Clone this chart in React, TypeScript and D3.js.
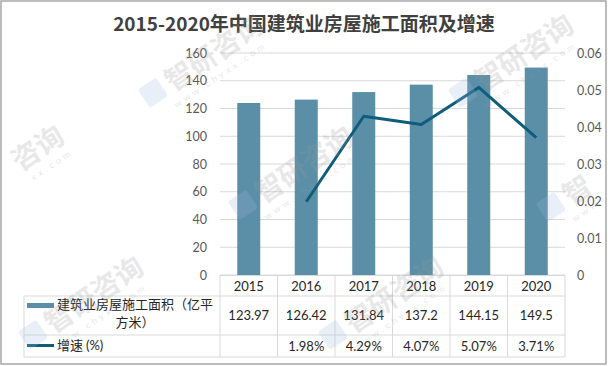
import React from "react";
import * as d3 from "d3";

const years = ["2015", "2016", "2017", "2018", "2019", "2020"];
const areaValues = [123.97, 126.42, 131.84, 137.2, 144.15, 149.5];
const growthValues: (number | null)[] = [null, 0.0198, 0.0429, 0.0407, 0.0507, 0.0371];
const areaLabels = ["123.97", "126.42", "131.84", "137.2", "144.15", "149.5"];
const growthLabels = ["", "1.98%", "4.29%", "4.07%", "5.07%", "3.71%"];
const leftTicks = [0, 20, 40, 60, 80, 100, 120, 140, 160];
const rightTicks = [0, 0.01, 0.02, 0.03, 0.04, 0.05, 0.06];
const watermarkSpots = [
  [150, 108],
  [460, 108],
  [240, 220],
  [30, 350],
  [330, 350],
];

const W = 608;
const H = 366;
const FONT = "'Noto Sans CJK SC', 'Noto Sans', sans-serif";
const NUM = "Lato, 'Open Sans', sans-serif";
const BAR = "#5b8fa8";
const LINE = "#0f5d7b";

function Watermark({
  x,
  y,
  label = "智研咨询",
  url = "www.chyxx.com",
  logo = true,
  lx = 28,
  ux = 22,
}: {
  x: number;
  y: number;
  label?: string;
  url?: string;
  logo?: boolean;
  lx?: number;
  ux?: number;
}) {
  return (
    <g transform={`translate(${x},${y}) rotate(-34)`} opacity={0.22} pointerEvents="none">
      {logo && <rect x={0} y={-22} width={22} height={22} rx={3} fill="#9fbbe0" />}
      <text x={lx} y={0} fontSize={28} fontWeight="bold" fill="#9a9a9a" fontFamily={FONT}>
        {label}
      </text>
      <text x={ux} y={15} fontSize={9} fill="#9a9a9a" letterSpacing={3.5} fontFamily={NUM}>
        {url}
      </text>
    </g>
  );
}

export default function App() {
  const x0 = 220;
  const x1 = 565;
  const yTop = 53;
  const yBot = 275;
  const x = d3.scaleBand<string>().domain(years).range([x0, x1]).paddingInner(0).paddingOuter(0);
  const yL = d3.scaleLinear().domain([0, 160]).range([yBot, yTop]);
  const yR = d3.scaleLinear().domain([0, 0.06]).range([yBot, yTop]);
  const barW = 23;
  const line = d3
    .line<number | null>()
    .defined((d) => d != null)
    .x((_, i) => (x(years[i]) as number) + x.bandwidth() / 2)
    .y((d) => yR(d as number));

  const rowTop = 296;
  const rowMid = 335;
  const rowBot = 357;
  const tableLeft = 24;

  return (
    <svg
      width={W}
      height={H}
      style={{ position: "absolute", left: 0, top: 0, fontFamily: FONT }}
    >
      <rect x={0} y={0} width={W} height={H} fill="#fff" />
      <text
        x={304}
        y={31}
        textAnchor="middle"
        fontSize={19}
        fontWeight="bold"
        fill="#404040"
      >
        2015-2020年中国建筑业房屋施工面积及增速
      </text>

      {/* grid */}
      {leftTicks.map((t) => (
        <line key={"g" + t} x1={x0} x2={x1} y1={yL(t)} y2={yL(t)} stroke="#d9d9d9" strokeWidth={1} />
      ))}
      {leftTicks.map((t) => (
        <text key={"l" + t} x={207} y={yL(t) + 4.5} textAnchor="end" fontSize={12.5} fill="#595959" fontFamily={NUM}>
          {t}
        </text>
      ))}
      {rightTicks.map((t) => (
        <text key={"r" + t} x={577} y={yR(t) + 4.5} textAnchor="start" fontSize={12.5} fill="#595959" fontFamily={NUM}>
          {t === 0 ? "0" : d3.format(".2f")(t)}
        </text>
      ))}

      {/* bars */}
      {areaValues.map((v, i) => (
        <rect
          key={"b" + i}
          x={(x(years[i]) as number) + x.bandwidth() / 2 - barW / 2}
          y={yL(v)}
          width={barW}
          height={yBot - yL(v)}
          fill={BAR}
        />
      ))}
      <path d={line(growthValues) || ""} fill="none" stroke={LINE} strokeWidth={3} strokeLinejoin="round" />

      {/* table */}
      <g stroke="#d9d9d9" strokeWidth={1}>
        <line x1={x0} x2={x1} y1={yBot + 0.5} y2={yBot + 0.5} />
        <line x1={tableLeft} x2={x1} y1={rowTop} y2={rowTop} />
        <line x1={tableLeft} x2={x1} y1={rowMid} y2={rowMid} />
        <line x1={tableLeft} x2={x1} y1={rowBot} y2={rowBot} />
        <line x1={tableLeft} x2={tableLeft} y1={rowTop} y2={rowBot} />
        {years.map((yr) => (
          <line key={"v" + yr} x1={x(yr) as number} x2={x(yr) as number} y1={yBot} y2={rowBot} />
        ))}
        <line x1={x1} x2={x1} y1={yBot} y2={rowBot} />
      </g>
      {years.map((yr) => (
        <text
          key={"c" + yr}
          x={(x(yr) as number) + x.bandwidth() / 2}
          y={291}
          textAnchor="middle"
          fontSize={13}
          fill="#262626"
          fontFamily={NUM}
        >
          {yr}
        </text>
      ))}
      {areaLabels.map((s, i) => (
        <text
          key={"a" + i}
          x={(x(years[i]) as number) + x.bandwidth() / 2}
          y={320}
          textAnchor="middle"
          fontSize={13}
          fill="#262626"
          fontFamily={NUM}
        >
          {s}
        </text>
      ))}
      {growthLabels.map((s, i) => (
        <text
          key={"p" + i}
          x={(x(years[i]) as number) + x.bandwidth() / 2}
          y={351}
          textAnchor="middle"
          fontSize={13}
          fill="#262626"
          fontFamily={NUM}
        >
          {s}
        </text>
      ))}

      {/* legend keys */}
      <rect x={27} y={303} width={27} height={5} fill={BAR} />
      <line x1={27} x2={54} y1={345.5} y2={345.5} stroke={LINE} strokeWidth={3} />
      <text x={57} y={309} fontSize={13} fill="#262626">
        建筑业房屋施工面积（亿平
      </text>
      <text x={135} y={327} textAnchor="middle" fontSize={13} fill="#262626">
        方米）
      </text>
      <text x={57} y={350} fontSize={13} fill="#262626">
        增速 <tspan fontFamily={NUM}>(%)</tspan>
      </text>

      <Watermark x={20} y={172} label="咨询" url="xx.com" logo={false} lx={0} ux={6} />
      <Watermark x={548} y={222} label="智" url="www" />
      {watermarkSpots.map(([wx, wy], i) => (
        <Watermark key={"w" + i} x={wx} y={wy} />
      ))}
      <rect x={1} y={1} width={W - 3} height={H - 3} fill="none" stroke="#a6a6a6" strokeWidth={1.5} />
    </svg>
  );
}
